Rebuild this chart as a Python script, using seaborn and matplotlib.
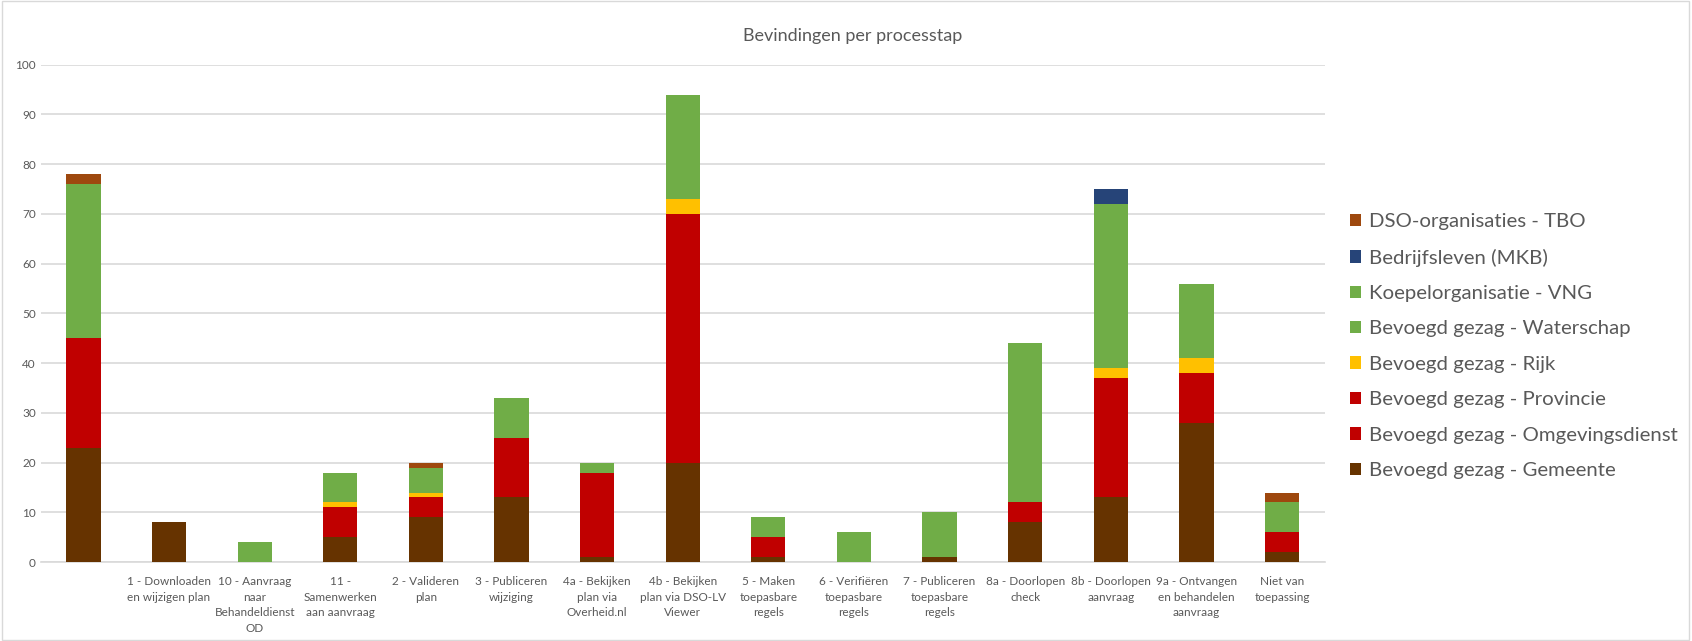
import matplotlib
matplotlib.use("Agg")
import matplotlib.pyplot as plt
from matplotlib.patches import Patch, Rectangle
import numpy as np
import pandas as pd
import seaborn as sns

# ---- data ----
categories = [
    "",
    "1 - Downloaden\nen wijzigen plan",
    "10 - Aanvraag\nnaar\nBehandeldienst\nOD",
    "11 -\nSamenwerken\naan aanvraag",
    "2 - Valideren\nplan",
    "3 - Publiceren\nwijziging",
    "4a - Bekijken\nplan via\nOverheid.nl",
    "4b - Bekijken\nplan via DSO-LV\nViewer",
    "5 - Maken\ntoepasbare\nregels",
    "6 - Verifiëren\ntoepasbare\nregels",
    "7 - Publiceren\ntoepasbare\nregels",
    "8a - Doorlopen\ncheck",
    "8b - Doorlopen\naanvraag",
    "9a - Ontvangen\nen behandelen\naanvraag",
    "Niet van\ntoepassing",
]

gemeente        = [23, 8, 0, 5, 9, 13, 1, 20, 1, 0, 1, 8, 13, 28, 2]
omgevingsdienst = [0, 0, 0, 0, 0, 0, 0, 0, 0, 0, 0, 0, 0, 0, 0]
provincie       = [22, 0, 0, 6, 4, 12, 17, 50, 4, 0, 0, 4, 24, 10, 4]
rijk            = [0, 0, 0, 1, 1, 0, 0, 3, 0, 0, 0, 0, 2, 3, 0]
waterschap      = [0, 0, 0, 0, 0, 0, 0, 0, 0, 0, 0, 0, 0, 0, 0]
vng             = [31, 0, 4, 6, 5, 8, 2, 21, 4, 6, 9, 32, 33, 15, 6]
mkb             = [0, 0, 0, 0, 0, 0, 0, 0, 0, 0, 0, 0, 3, 0, 0]
tbo             = [2, 0, 0, 0, 1, 0, 0, 0, 0, 0, 0, 0, 0, 0, 2]

# bottom -> top stacking order
series_names = [
    "Bevoegd gezag - Gemeente",
    "Bevoegd gezag - Omgevingsdienst",
    "Bevoegd gezag - Provincie",
    "Bevoegd gezag - Rijk",
    "Bevoegd gezag - Waterschap",
    "Koepelorganisatie - VNG",
    "Bedrijfsleven (MKB)",
    "DSO-organisaties - TBO",
]
series_values = [gemeente, omgevingsdienst, provincie, rijk, waterschap, vng, mkb, tbo]
series_colors = ["#663300", "#C00000", "#C00000", "#FFC000",
                 "#70AD47", "#70AD47", "#264478", "#9E480E"]

TEXT = "#595959"
GRID = "#D9D9D9"

plt.rcParams["font.family"] = ["Lato", "DejaVu Sans"]

fig = plt.figure(figsize=(16.92, 6.41), dpi=100)
ax = fig.add_axes([0.024, 0.123, 0.759, 0.776])

# stacked bars: draw cumulative totals from top series down
cum = np.cumsum(np.array(series_values, dtype=float), axis=0)
for name, color, heights in reversed(list(zip(series_names, series_colors, cum))):
    df = pd.DataFrame({"cat": categories, "val": heights})
    sns.barplot(data=df, x="cat", y="val", color=color, width=0.4,
                saturation=1, ax=ax, zorder=3)

ax.set_ylim(0, 100)
ax.set_yticks(np.arange(0, 101, 10))
ax.yaxis.grid(True, color=GRID, linewidth=1.2, zorder=0)
ax.set_axisbelow(True)
for s in ["top", "right", "left"]:
    ax.spines[s].set_visible(False)
ax.spines["bottom"].set_color(GRID)
ax.spines["bottom"].set_linewidth(1.2)
ax.tick_params(axis="both", length=0, colors=TEXT, labelsize=8.5)
ax.tick_params(axis="x", pad=10)
ax.set_xlabel("")
ax.set_ylabel("")
ax.set_xlim(-0.5, len(categories) - 0.5)
for lbl in ax.get_xticklabels():
    lbl.set_linespacing(1.5)

fig.text(0.504, 0.944, "Bevindingen per processtap", ha="center", va="center",
         fontsize=13, color=TEXT)

handles = [Patch(facecolor=c, edgecolor="none", label=n)
           for n, c in zip(series_names, series_colors)][::-1]
fig.legend(handles=handles, loc="center left", bbox_to_anchor=(0.787, 0.46),
           frameon=False, fontsize=14.7, labelcolor=TEXT,
           handlelength=0.55, handleheight=0.55, handletextpad=0.4,
           labelspacing=0.9)

fig.patches.append(Rectangle((0.001, 0.002), 0.997, 0.996, transform=fig.transFigure,
                             fill=False, edgecolor=GRID, linewidth=1))

fig.savefig("out.png", dpi=100, facecolor="white")
